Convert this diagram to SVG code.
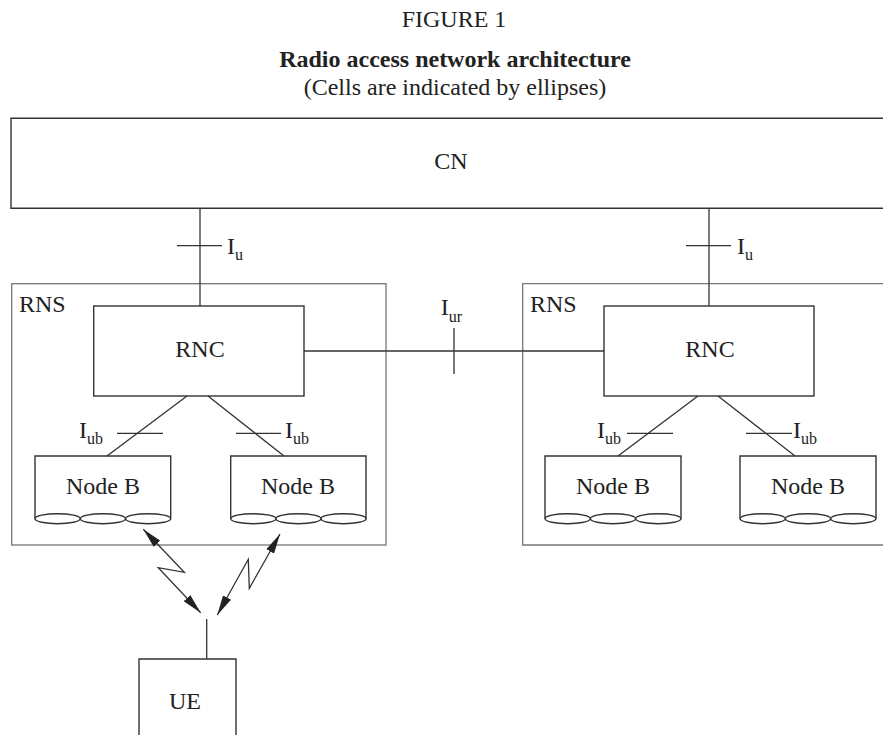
<svg xmlns="http://www.w3.org/2000/svg" width="883" height="735" viewBox="0 0 883 735">
<style>
  text { font-family: "Liberation Serif", "Times New Roman", serif; fill: #222; font-size: 24px; }
  .c { text-anchor: middle; }
  .sub { font-size: 16px; }
  .b { fill: none; stroke: #333; stroke-width: 1.4; }
  .rns { fill: none; stroke: #777; stroke-width: 1.3; }
  .ln { fill: none; stroke: #333; stroke-width: 1.3; }
</style>
<defs>
  <marker id="ah" viewBox="0 0 20 10" refX="20" refY="5" markerWidth="20" markerHeight="10" markerUnits="userSpaceOnUse" orient="auto-start-reverse">
    <path d="M0,0.5 L20,5 L0,9.5 z" fill="#222"/>
  </marker>
</defs>
<rect width="883" height="735" fill="#fff"/>

<g id="title">
  <text x="454" y="27" class="c">FIGURE 1</text>
  <text x="455" y="67" class="c" font-weight="bold">Radio access network architecture</text>
  <text x="455" y="95" class="c">(Cells are indicated by ellipses)</text>
</g>

<g id="cn">
  <path class="b" d="M890,118.3 H11 V208.3 H890"/>
  <text x="451" y="169" class="c">CN</text>
</g>

<g id="rns-left">
  <rect class="rns" x="11.7" y="283.7" width="374.3" height="261.3"/>
  <text x="19" y="312">RNS</text>
</g>
<g id="rns-right">
  <path class="rns" d="M890,283.7 H522.7 V545 H890"/>
  <text x="530" y="312">RNS</text>
</g>

<g id="rnc-left">
  <rect class="b" x="93.7" y="306" width="210.3" height="90"/>
  <text x="200" y="357" class="c">RNC</text>
</g>
<g id="rnc-right">
  <rect class="b" x="604" y="306" width="210" height="90"/>
  <text x="710" y="357" class="c">RNC</text>
</g>

<g id="nodeb-1">
  <path class="b" d="M35,518.7 V456 H170.7 V518.7"/>
  <ellipse class="b" cx="57.6" cy="518.7" rx="22.6" ry="5"/>
  <ellipse class="b" cx="102.9" cy="518.7" rx="22.6" ry="5"/>
  <ellipse class="b" cx="148.1" cy="518.7" rx="22.6" ry="5"/>
  <text x="103" y="494" class="c">Node B</text>
</g>
<g id="nodeb-2">
  <path class="b" d="M230.7,518.7 V456 H366 V518.7"/>
  <ellipse class="b" cx="253.3" cy="518.7" rx="22.6" ry="5"/>
  <ellipse class="b" cx="298.4" cy="518.7" rx="22.6" ry="5"/>
  <ellipse class="b" cx="343.5" cy="518.7" rx="22.6" ry="5"/>
  <text x="298" y="494" class="c">Node B</text>
</g>
<g id="nodeb-3">
  <path class="b" d="M545,518.7 V456 H681 V518.7"/>
  <ellipse class="b" cx="567.7" cy="518.7" rx="22.6" ry="5"/>
  <ellipse class="b" cx="613" cy="518.7" rx="22.6" ry="5"/>
  <ellipse class="b" cx="658.3" cy="518.7" rx="22.6" ry="5"/>
  <text x="613" y="494" class="c">Node B</text>
</g>
<g id="nodeb-4">
  <path class="b" d="M740,518.7 V456 H876 V518.7"/>
  <ellipse class="b" cx="762.7" cy="518.7" rx="22.6" ry="5"/>
  <ellipse class="b" cx="808" cy="518.7" rx="22.6" ry="5"/>
  <ellipse class="b" cx="853.3" cy="518.7" rx="22.6" ry="5"/>
  <text x="808" y="494" class="c">Node B</text>
</g>

<g id="ue">
  <path class="b" d="M139,740 V659 H236 V740"/>
  <text x="185" y="709" class="c">UE</text>
</g>

<g id="connectors">
  <!-- Iu -->
  <line class="ln" x1="200" y1="208.3" x2="200" y2="306"/>
  <line class="ln" x1="177" y1="245.7" x2="222" y2="245.7"/>
  <line class="ln" x1="709" y1="208.3" x2="709" y2="306"/>
  <line class="ln" x1="686" y1="245.7" x2="731" y2="245.7"/>
  <!-- Iur -->
  <line class="ln" x1="304" y1="351" x2="604" y2="351"/>
  <line class="ln" x1="454" y1="328" x2="454" y2="374"/>
  <!-- Iub -->
  <line class="ln" x1="187" y1="396" x2="107" y2="456"/>
  <line class="ln" x1="208" y1="396" x2="284" y2="456"/>
  <line class="ln" x1="117" y1="433.3" x2="163" y2="433.3"/>
  <line class="ln" x1="236" y1="433.3" x2="281" y2="433.3"/>
  <line class="ln" x1="698" y1="396" x2="618" y2="456"/>
  <line class="ln" x1="718" y1="396" x2="795" y2="456"/>
  <line class="ln" x1="627" y1="433.3" x2="673" y2="433.3"/>
  <line class="ln" x1="746" y1="433.3" x2="792" y2="433.3"/>
  <!-- radio links -->
  <polyline class="ln" points="143.3,529.3 184.3,572.3 158.3,567.7 200.7,612.7" marker-start="url(#ah)" marker-end="url(#ah)"/>
  <polyline class="ln" points="280,534 249.3,588.3 248.3,559.3 217.3,615" marker-start="url(#ah)" marker-end="url(#ah)"/>
  <!-- antenna -->
  <line class="ln" x1="206.7" y1="619" x2="206.7" y2="659"/>
</g>

<g id="labels">
  <text x="227" y="254">I<tspan class="sub" dy="6">u</tspan></text>
  <text x="737" y="254">I<tspan class="sub" dy="6">u</tspan></text>
  <text x="440.7" y="315">I<tspan class="sub" dy="6.5">ur</tspan></text>
  <text x="79" y="438.3">I<tspan class="sub" dy="6">ub</tspan></text>
  <text x="285" y="438.3">I<tspan class="sub" dy="6">ub</tspan></text>
  <text x="597" y="438.3">I<tspan class="sub" dy="6">ub</tspan></text>
  <text x="793" y="438.3">I<tspan class="sub" dy="6">ub</tspan></text>
</g>
</svg>
